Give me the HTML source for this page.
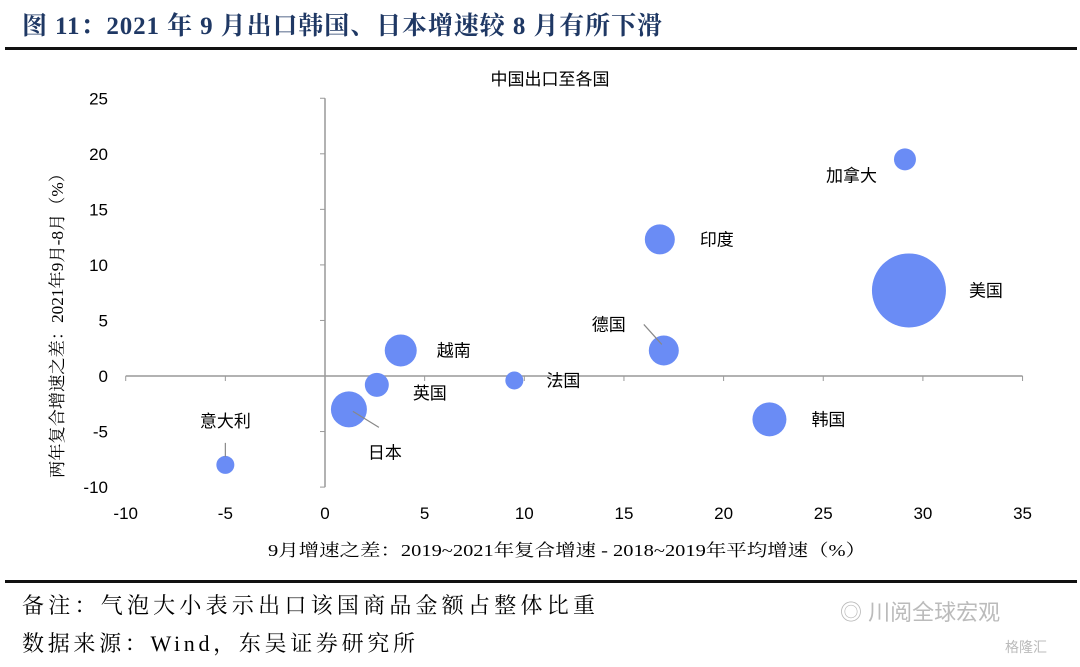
<!DOCTYPE html>
<html><head><meta charset="utf-8"><style>
body{margin:0;width:1080px;height:662px;background:#fff;overflow:hidden;font-family:"Liberation Serif","Noto Serif CJK SC",serif}
</style></head><body>
<svg width="1080" height="662" xmlns="http://www.w3.org/2000/svg">
<text x="22" y="34" font-size="25" font-weight="bold" fill="#1f3864" textLength="640" lengthAdjust="spacing" font-family="Liberation Serif,Noto Serif CJK SC,serif">图 11：2021 年 9 月出口韩国、日本增速较 8 月有所下滑</text>
<rect x="5" y="47" width="1072" height="3" fill="#111"/>
<text x="550" y="85" font-size="17" text-anchor="middle" font-family="Liberation Sans,Noto Sans CJK SC,sans-serif">中国出口至各国</text>
<g id="axes"></g>
<g id="marks"></g>
<text x="268" y="556" font-size="17" textLength="598" lengthAdjust="spacingAndGlyphs" font-family="Liberation Serif,Noto Serif CJK SC,serif">9月增速之差：2019~2021年复合增速 - 2018~2019年平均增速（%）</text>
<text transform="translate(63,478) rotate(-90)" font-size="17" textLength="313" lengthAdjust="spacingAndGlyphs" font-family="Liberation Serif,Noto Serif CJK SC,serif">两年复合增速之差：2021年9月-8月（%）</text>
<rect x="5" y="580" width="1072" height="3" fill="#111"/>
<text x="22" y="613" font-size="22" textLength="573" lengthAdjust="spacing" font-family="Liberation Serif,Noto Serif CJK SC,serif">备注：气泡大小表示出口该国商品金额占整体比重</text>
<text x="22" y="651" font-size="22" textLength="393" lengthAdjust="spacing" font-family="Liberation Serif,Noto Serif CJK SC,serif">数据来源：Wind，东吴证券研究所</text>
<text x="840" y="620" font-size="22" fill="#bbb" font-family="Liberation Sans,Noto Sans CJK SC,sans-serif">◎ 川阅全球宏观</text>
<text x="1005" y="652" font-size="14" fill="#bbb" font-family="Liberation Sans,Noto Sans CJK SC,sans-serif">格隆汇</text>
</svg>
<script>
const names=["加拿大","印度","美国","德国","越南","英国","法国","日本","韩国","意大利"];
const xVals=[29.1,16.8,29.3,17.0,3.8,2.6,9.5,1.2,22.3,-5.0];
const yVals=[19.5,12.3,7.7,2.3,2.3,-0.8,-0.4,-3.0,-3.9,-8.0];
const sizes=[11,15,37,15,16,12,9,18,17,9];
const xTicks=[-10,-5,0,5,10,15,20,25,30,35];
const yTicks=[25,20,15,10,5,0,-5,-10];
const NS="http://www.w3.org/2000/svg";
const sx=v=>325+(v)*19.93, sy=v=>376-v*11.11;
function mk(t,a,p){const e=document.createElementNS(NS,t);for(const k in a)e.setAttribute(k,a[k]);p.appendChild(e);return e;}
const ax=document.getElementById('axes'), mg=document.getElementById('marks');
const sans="Liberation Sans,Noto Sans CJK SC,sans-serif";
let l=mk('line',{x1:sx(-10),x2:sx(35),y1:sy(0),y2:sy(0),stroke:'#999','stroke-width':1.5},ax);


l=mk('line',{x1:sx(0),x2:sx(0),y1:sy(25),y2:sy(-10),stroke:'#999','stroke-width':1.5},ax);


xTicks.forEach(v=>{
 const t=mk('text',{x:sx(v),y:519,'font-size':17,'text-anchor':'middle','font-family':sans},ax);t.textContent=v;
 
 
 const k=mk('line',{x1:sx(v),x2:sx(v),y1:sy(0),y2:sy(0)+5,stroke:'#999'},ax);
 
 
});
yTicks.forEach(v=>{
 const t=mk('text',{x:108,y:sy(v)+6,'font-size':17,'text-anchor':'end','font-family':sans},ax);t.textContent=v;
 
 
 const k=mk('line',{x1:sx(0)-5,x2:sx(0),y1:sy(v),y2:sy(v),stroke:'#999'},ax);
 
 
});
const lab=[[-28,22,'end'],[40,6,'start'],[60,6,'start'],[-38,-20,'end'],[36,6,'start'],[36,14,'start'],[32,6,'start'],[36,49,'middle'],[42,6,'start'],[0,-38,'middle']];
const leaders={3:[-20,-26,-2,-6],7:[4,2,30,18],9:[0,-22,0,-8]};
names.forEach((n,i)=>{
 const cx=sx(xVals[i]),cy=sy(yVals[i]);
 const c=mk('circle',{cx:cx,cy:cy,r:sizes[i],fill:'#6a8cf5'},mg);
 
 
 if(leaders[i]){const d=leaders[i];const ln=mk('line',{x1:cx+d[0],y1:cy+d[1],x2:cx+d[2],y2:cy+d[3],stroke:'#888','stroke-width':1.2},mg);
  
  }
 const t=mk('text',{x:cx+lab[i][0],y:cy+lab[i][1],'font-size':17,'text-anchor':lab[i][2],'font-family':sans},mg);t.textContent=n;
 
 
});
</script>
</body></html>
